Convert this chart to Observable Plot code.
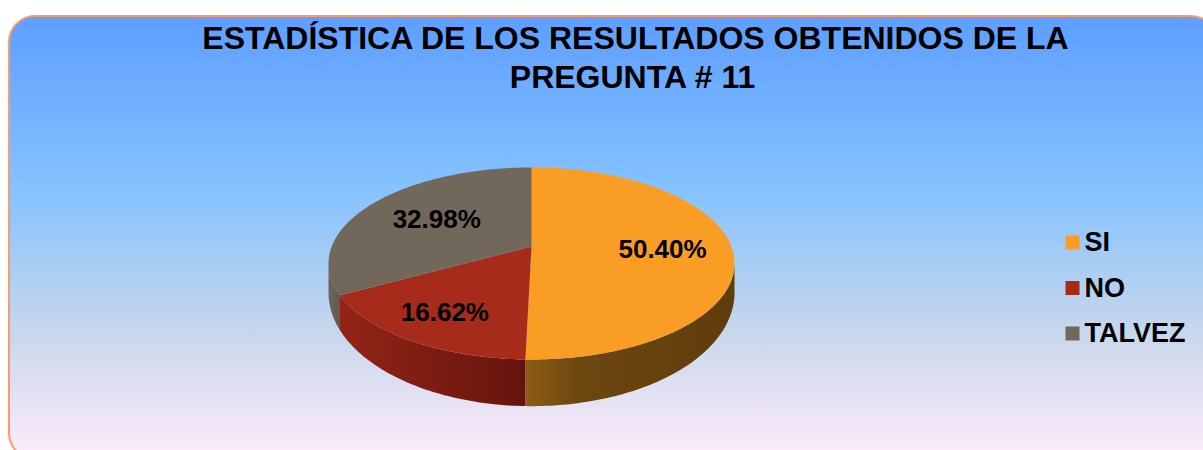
<!DOCTYPE html>
<html lang="es">
<head>
<meta charset="utf-8">
<script src="https://cdn.jsdelivr.net/npm/d3@7"></script>
<script src="https://cdn.jsdelivr.net/npm/@observablehq/plot@0.6"></script>
<style>
  html, body { margin: 0; padding: 0; background: #fff; }
  #page { position: relative; width: 1203px; height: 450px; overflow: hidden; font-family: "Liberation Sans", Arial, sans-serif; }
  #card { position: absolute; left: 8px; top: 15px; width: 1206px; height: 441px; border: 2px solid #ff9a66; border-radius: 27px;
    background: linear-gradient(180deg, #5e9eff 0%, #85c2ff 39%, #c4d6eb 70%, #ffebfa 100%); }
  #title { position: absolute; left: 0; top: 0; width: 1203px; height: 100px; box-sizing: border-box; padding-top: 19px; padding-left: 62px; text-align: center;
    font-weight: 700; font-size: 32px; line-height: 39px; color: #000; }
  #title span { position: relative; left: 3px; }
  #chart { position: absolute; left: 0; top: 100px; }
  #chart svg { display: block; background: transparent; }
</style>
</head>
<body>
<div id="page">
  <div id="card"></div>
  <div id="title"><span>ESTADÍSTICA DE LOS RESULTADOS OBTENIDOS DE LA</span><br>PREGUNTA # 11</div>
  <div id="chart"></div>
</div>
<script>
const categories = ["SI", "NO", "TALVEZ"];
const percentages = [50.40, 16.62, 32.98];
const colors = ["#f99d24", "#a62b1a", "#71675a"];

// Projection of the tilted disc (a perspective view of a circle)
const cx = 531, apexY = 246, bx = 199.8, ay = 93, k = 0.177;
const lowerY = 272, lowerAy = 110;
const labelRadius = [0.655, 0.74, 0.58];
const labelNudge = [2, 0, -1];
const silhouette = Math.acos(-k) * 180 / Math.PI; // angle of the widest rim point

const rim = (deg, r = 1, y0 = apexY, a = ay) => {
  const t = deg * Math.PI / 180, u = r * Math.sin(t), v = -r * Math.cos(t), w = 1 - k * v;
  return {x: cx + bx * u / w, y: y0 + a * v / w};
};
const range = (from, to) => {
  const n = Math.max(2, Math.ceil(Math.abs(to - from)));
  return d3.range(n + 1).map(i => from + (to - from) * i / n);
};

let acc = 0;
const slices = categories.map((category, i) => {
  const start = acc * 3.6; acc += percentages[i];
  return {category, value: percentages[i], start, end: acc * 3.6, r: labelRadius[i], nudge: labelNudge[i]};
});

const topFaces = slices.flatMap(s => [
  {category: s.category, ...rim(0, 0)},
  ...range(s.start, s.end).map(a => ({category: s.category, ...rim(a)}))
]);

const sideOf = s => {
  const from = Math.max(s.start, silhouette), to = Math.min(s.end, 360 - silhouette);
  return [
    ...range(from, to).map(a => rim(a)),
    ...range(to, from).map(a => rim(a, 1, lowerY, lowerAy))
  ];
};

const gradients = [
  {id: "side-SI", x1: 525, x2: 734, stops: [[0, "#8c5e17"], [0.06, "#855813"], [0.25, "#6d4710"], [1, "#5f3c0b"]]},
  {id: "side-NO", x1: 343, x2: 525, stops: [[0, "#922417"], [1, "#65140d"]]},
  {id: "side-TALVEZ", x1: 328, x2: 343, stops: [[0, "#6f655a"], [1, "#5e5449"]]}
];

const defs = () => {
  const d = d3.create("svg:defs");
  gradients.forEach(g => {
    const lg = d.append("linearGradient").attr("id", g.id).attr("gradientUnits", "userSpaceOnUse")
      .attr("x1", g.x1).attr("x2", g.x2).attr("y1", 0).attr("y2", 0);
    g.stops.forEach(([o, c]) => lg.append("stop").attr("offset", o).attr("stop-color", c));
  });
  return d.node();
};

const legendRows = categories.map((category, i) => ({category, y: 242 + i * 45.5, x: 1072, tx: 1084}));

const plot = Plot.plot({
  width: 1203, height: 350, margin: 0,
  style: {background: "transparent", fontFamily: "'Liberation Sans', Arial, sans-serif"},
  x: {domain: [0, 1203], range: [0, 1203], axis: null},
  y: {domain: [100, 450], range: [0, 350], axis: null},
  color: {domain: categories, range: colors},
  marks: [
    defs,
    ...slices.map(s => Plot.line(sideOf(s), {x: "x", y: "y", fill: `url(#side-${s.category})`, stroke: "none"})),
    Plot.line(topFaces, {x: "x", y: "y", z: "category", fill: "category", stroke: "none"}),
    Plot.text(slices, {
      x: s => rim((s.start + s.end) / 2, s.r).x,
      y: s => rim((s.start + s.end) / 2, s.r).y + s.nudge,
      text: s => s.value.toFixed(2) + "%",
      fontSize: 26, fontWeight: 700, fill: "#000"
    }),
    Plot.dot(legendRows, {x: "x", y: "y", symbol: "square", r: 7.9, fill: "category"}),
    Plot.text(legendRows, {x: "tx", y: "y", text: "category", textAnchor: "start", fontSize: 27, fontWeight: 700, fill: "#000"})
  ]
});
document.getElementById("chart").append(plot);
</script>
</body>
</html>
